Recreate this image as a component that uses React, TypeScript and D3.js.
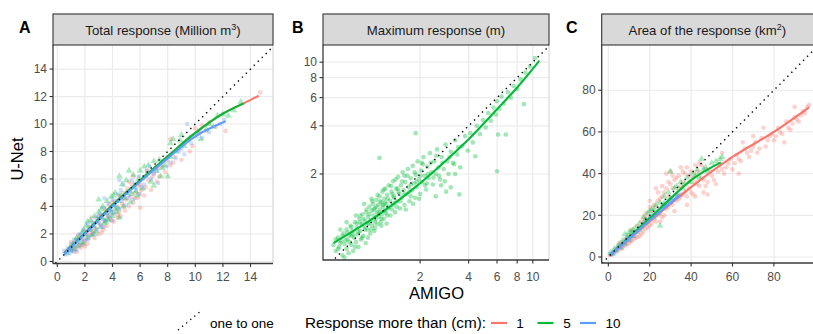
import React from "react";
import * as d3 from "d3";

type P = [number, number];

// ---------- Panel A : Total response (Million m3) ----------
const A_RED: P[] = [
  [0.6,0.7],[0.8,0.9],[1.0,1.0],[1.1,0.8],[1.2,1.3],[1.3,0.9],[1.4,1.1],[1.5,1.6],[1.6,1.2],[1.7,1.0],
  [1.8,1.7],[1.9,1.4],[2.0,2.2],[2.1,1.6],[2.2,1.3],[2.3,2.5],[2.4,1.9],[2.5,2.1],[2.6,2.8],[2.7,1.7],
  [2.8,2.4],[2.9,3.1],[3.0,2.0],[3.1,2.7],[3.2,3.4],[3.3,2.3],[3.4,3.0],[3.5,3.8],[3.6,2.6],[3.7,3.3],
  [3.8,4.1],[3.9,3.0],[4.0,3.6],[4.1,2.9],[4.2,4.4],[4.3,3.4],[4.4,3.9],[4.5,4.8],[4.6,3.3],[4.7,4.2],
  [4.8,5.0],[4.9,3.7],[5.0,4.5],[5.1,5.3],[5.2,4.0],[5.3,4.7],[5.4,5.6],[5.5,4.3],[5.6,5.0],[5.8,4.6],
  [5.9,5.5],[6.0,3.9],[6.1,5.2],[6.2,6.0],[6.4,5.4],[6.6,5.9],[6.8,5.2],[7.0,6.4],[7.2,5.8],[7.4,6.2],
  [7.6,6.9],[7.8,6.5],[8.0,7.3],[8.2,7.0],[8.5,7.6],[8.8,8.2],[9.0,7.4],[9.2,8.6],[9.5,8.9],[9.8,8.4],
  [10.0,9.7],[10.3,9.3],[10.8,9.5],[11.5,9.8],[12.2,9.5],[14.7,12.3],[8.2,8.9],[6.5,6.6],[11.0,10.1],
  [2.5,3.2],[3.2,2.1],[4.5,3.6],[5.5,6.2],[1.5,1.9],[2.0,1.1],[3.8,3.2],[4.8,4.0],[5.9,4.9],
  [1.0,1.4],[1.4,0.7],[1.8,1.2],[2.2,2.0],[2.6,2.2],[3.0,3.3],[3.4,2.5],[3.6,3.7],[4.0,4.3],[4.4,3.2],
  [4.8,4.6],[5.2,5.8],[5.6,4.6],[6.0,5.6],[6.3,4.8],[6.9,6.2],[7.3,6.8],[8.4,7.2],[9.6,8.0],[10.5,9.9]
];
const A_GREEN: P[] = [
  [0.7,0.6],[0.9,1.0],[1.1,1.2],[1.2,0.9],[1.3,1.5],[1.5,1.1],[1.6,1.8],[1.7,1.4],[1.8,2.1],[1.9,1.3],
  [2.0,1.9],[2.1,2.6],[2.2,1.7],[2.3,2.3],[2.4,3.0],[2.5,1.9],[2.6,2.6],[2.7,3.3],[2.8,2.2],[2.9,2.9],
  [3.0,3.6],[3.1,2.5],[3.2,3.2],[3.3,4.0],[3.4,2.8],[3.5,3.5],[3.6,4.4],[3.7,3.0],[3.8,3.8],[3.9,4.7],
  [4.0,3.3],[4.1,4.1],[4.2,5.0],[4.3,3.6],[4.4,4.4],[4.5,3.2],[4.6,4.8],[4.7,5.6],[4.8,4.0],[4.9,4.6],
  [5.0,5.9],[5.2,5.1],[5.3,4.3],[5.5,6.3],[5.6,5.4],[5.8,4.8],[5.9,6.0],[6.0,6.6],[6.2,5.3],[6.4,6.2],
  [6.6,7.0],[6.8,5.8],[7.0,5.5],[7.2,6.6],[7.4,7.4],[7.6,6.8],[7.8,7.0],[8.0,6.2],[8.2,7.6],[8.4,8.9],
  [8.6,8.0],[8.9,8.8],[9.2,8.4],[9.6,9.0],[10.2,9.4],[10.4,8.9],[11.0,10.0],[11.3,9.8],[12.0,10.7],
  [12.4,10.6],[13.3,11.6],[12.8,11.0],[4.5,6.2],[3.0,4.5],[2.2,2.9],[3.6,3.1],[4.2,3.8],[5.4,4.9],
  [1.0,0.8],[1.4,1.7],[1.9,2.3],[2.4,2.4],[2.7,2.0],[3.2,3.8],[3.5,2.9],[3.9,3.5],[4.1,4.8],[4.4,3.9],
  [5.0,5.0],[5.2,6.6],[5.7,5.1],[6.3,6.9],[7.0,7.3],[7.5,6.2],[8.2,8.6],[9.0,9.2],[10.8,9.6],[11.6,10.6]
];
const A_BLUE: P[] = [
  [0.5,0.8],[0.7,0.7],[0.8,1.0],[0.9,0.6],[1.0,1.3],[1.1,0.9],[1.2,1.6],[1.3,1.1],[1.4,0.8],[1.5,1.4],
  [1.6,2.0],[1.7,1.2],[1.8,1.6],[1.9,2.3],[2.0,1.5],[2.1,2.0],[2.2,2.7],[2.3,1.8],[2.4,2.3],[2.5,2.9],
  [2.6,2.0],[2.7,2.5],[2.8,3.2],[2.9,2.3],[3.0,2.8],[3.1,3.5],[3.2,2.6],[3.3,3.1],[3.4,3.9],[3.5,2.9],
  [3.6,3.4],[3.7,4.2],[3.8,3.2],[3.9,3.7],[4.0,4.5],[4.1,3.5],[4.2,4.0],[4.4,4.9],[4.5,3.8],[4.7,4.4],
  [4.8,5.6],[5.0,4.1],[5.2,4.8],[5.4,5.9],[5.5,4.5],[5.7,5.2],[5.9,6.2],[6.0,4.9],[6.3,5.6],[6.5,6.6],
  [6.8,6.0],[7.0,6.4],[7.3,5.7],[7.6,7.3],[7.9,6.9],[8.2,7.2],[8.6,7.5],[9.0,8.2],[9.2,7.8],[9.4,10.0],
  [9.7,8.6],[10.1,9.1],[10.5,9.0],[11.0,9.4],[11.8,10.0],[12.1,10.3],[3.4,4.6],[4.5,5.9],[1.2,0.7],
  [0.6,0.5],[1.0,0.8],[1.4,1.6],[1.8,2.0],[2.2,1.6],[2.6,2.6],[3.0,3.3],[3.3,2.5],[3.7,3.6],[4.0,3.0],
  [4.3,4.4],[4.6,5.2],[5.1,4.6],[5.6,5.7],[6.1,5.4],[6.7,6.9],[7.2,6.6],[8.0,7.6],[8.8,8.0],[10.3,9.5]
];
const A_FIT_RED: P[] = [[0.5,0.6],[2,2.05],[4,4.1],[6,5.9],[8,7.65],[10,9.35],[12,10.75],[13.5,11.5],[14.6,12.06]];
const A_FIT_GREEN: P[] = [[0.5,0.6],[2,2.05],[4,4.1],[6,5.9],[8,7.65],[10,9.35],[12,10.75],[13.5,11.5]];
const A_FIT_BLUE: P[] = [[0.5,0.55],[2,2.0],[4,4.0],[6,5.8],[8,7.5],[10,9.1],[12.2,10.2]];
const A_TICKS = [0, 2, 4, 6, 8, 10, 12, 14];

// ---------- Panel B : Maximum response (m), log-log ----------
const B_GREEN: P[] = [
  [0.58,0.72],[0.60,0.66],[0.62,0.80],[0.63,0.70],[0.65,0.76],[0.66,0.62],[0.67,0.85],[0.68,0.73],[0.70,0.68],[0.70,0.90],
  [0.71,0.78],[0.72,0.64],[0.73,0.83],[0.74,0.95],[0.75,0.72],[0.76,0.88],[0.77,0.66],[0.78,0.80],[0.79,1.00],[0.80,0.75],
  [0.81,0.92],[0.82,0.84],[0.83,0.70],[0.84,1.05],[0.85,0.88],[0.86,0.78],[0.87,0.97],[0.88,1.12],[0.89,0.82],[0.90,0.94],
  [0.91,1.02],[0.92,0.74],[0.93,1.15],[0.94,0.90],[0.95,1.08],[0.96,0.98],[0.97,1.25],[0.98,0.85],[0.99,1.03],[1.00,1.18],
  [1.01,0.95],[1.02,1.30],[1.03,1.10],[1.04,0.88],[1.05,1.22],[1.06,1.04],[1.07,1.38],[1.08,1.15],[1.09,0.97],[1.10,1.28],
  [1.11,1.08],[1.12,1.45],[1.13,1.20],[1.14,1.00],[1.15,1.33],[1.16,1.12],[1.17,1.55],[1.18,1.25],[1.19,1.05],[1.20,1.40],
  [1.21,1.18],[1.22,1.62],[1.23,1.30],[1.24,0.98],[1.25,1.48],[1.27,1.22],[1.28,1.70],[1.30,1.36],[1.31,1.10],[1.33,1.55],
  [1.35,1.28],[1.36,1.80],[1.38,1.42],[1.40,1.15],[1.42,1.62],[1.44,1.35],[1.46,1.92],[1.48,1.50],[1.50,1.22],[1.52,1.70],
  [1.54,1.42],[1.56,2.05],[1.58,1.58],[1.60,1.28],[1.62,1.78],[1.65,1.50],[1.68,2.15],[1.70,1.66],[1.72,1.35],[1.75,1.88],
  [1.78,1.58],[1.80,2.25],[1.83,1.75],[1.86,1.42],[1.88,1.98],[1.90,1.65],[1.93,2.40],[1.96,1.85],[2.00,1.50],[2.03,2.10],
  [2.06,1.78],[2.10,2.55],[2.14,1.95],[2.18,1.60],[2.22,2.22],[2.26,1.88],[2.30,2.70],[2.35,2.05],[2.40,1.72],[2.45,2.40],
  [2.50,2.00],[2.55,2.85],[2.60,2.20],[2.66,1.85],[2.72,2.55],[2.80,2.15],[2.88,3.05],[2.95,2.40],[3.00,2.00],[3.10,2.75],
  [3.20,2.35],[3.30,3.25],[3.40,2.65],[3.55,2.20],[3.65,3.00],[3.80,3.45],[3.95,2.80],[4.10,3.60],[4.25,3.15],[4.40,2.58],
  [4.50,4.00],[4.70,3.55],[4.90,4.35],[5.10,3.90],[5.30,4.80],[5.50,4.30],[5.70,5.20],[5.90,4.70],[6.00,5.70],[6.10,3.53],
  [6.20,5.10],[6.40,6.10],[6.60,5.50],[6.80,3.53],[7.00,6.50],[7.30,6.00],[7.60,7.10],[8.00,6.80],[8.40,7.80],[8.80,5.47],
  [9.00,8.60],[9.60,9.40],[10.30,10.60],[6.00,2.08],[1.88,3.60],[1.12,2.52],[0.90,1.30],[1.00,1.40],[0.80,1.10],[0.70,1.00],
  [3.30,2.00],[2.70,1.70],[3.50,1.49],[2.90,1.55],[2.50,1.45],[3.10,1.65],[0.95,0.80],[1.05,0.92],[1.15,0.95],[1.25,1.10],
  [0.85,1.00],[0.75,0.82],[1.35,1.50],[1.45,1.62],[1.60,1.95],[1.75,1.45],[2.05,2.35],[2.20,1.75],[0.68,0.60],[0.64,0.90],
  [0.60,0.78],[0.62,0.68],[0.64,0.74],[0.66,0.82],[0.69,0.77],[0.71,0.86],[0.73,0.75],[0.75,0.93],[0.77,0.84],[0.79,0.70],
  [0.81,0.98],[0.83,0.87],[0.85,1.10],[0.87,0.80],[0.89,1.05],[0.91,0.90],[0.93,1.20],[0.95,0.98],[0.97,1.12],[0.99,0.90],
  [1.01,1.35],[1.03,1.20],[1.05,1.00],[1.07,1.25],[1.09,1.48],[1.11,1.15],[1.13,1.35],[1.15,1.05],[1.17,1.28],[1.19,1.60],
  [1.21,1.32],[1.23,1.14],[1.26,1.40],[1.29,1.25],[1.32,1.68],[1.34,1.20],[1.37,1.45],[1.39,1.32],[1.41,1.85],[1.43,1.25],
  [1.47,1.55],[1.51,1.35],[1.55,1.80],[1.59,1.48],[1.63,1.20],[1.67,1.95],[1.71,1.55],[1.76,1.72],[1.81,1.30],[1.85,2.05],
  [1.91,1.78],[1.97,1.40],[2.02,1.95],[2.08,2.30],[2.15,1.70],[2.24,2.00],[2.33,2.35],[2.42,1.90],[2.52,2.60],[2.62,1.95],
  [2.75,2.35],[2.85,1.80],[3.05,2.55],[3.25,2.30],[3.45,2.95]
];
const B_FIT: P[] = [[0.58,0.74],[0.8,0.9],[1.13,1.13],[1.5,1.39],[2,1.75],[3,2.51],[4,3.3],[6,5.08],[8,6.95],[10.97,10.2]];
const B_TICKS = [2, 4, 6, 8, 10];

// ---------- Panel C : Area of the response (km2) ----------
const C_RED: P[] = [
  [1,1],[2,1.5],[3,3.5],[4,2.5],[5,4.8],[6,3.8],[7,6.5],[8,5.5],[9,8.8],[10,6.8],[11,10],[12,8.3],[13,12],[14,9.5],
  [15,14],[16,11],[17,16.5],[18,13.5],[19,19],[20,15],[21,22],[22,18],[23,24],[24,20],[25,28],[26,19],[27,31],[28,23],
  [29,36],[30,26],[31,33],[32,22],[33,38],[34,28],[35,34],[36,30],[37,40],[38,25],[39,36],[40,31],[41,38],[42,29],
  [43,41],[44,34],[45,38],[46,31],[47,42],[48,36],[50,39],[52,35],[54,44],[56,40],[58,45],[60,42],[62,49],[64,46],
  [66,52],[68,48],[70,53],[72,50],[74,57],[76,53],[78,58],[80,56],[82,62],[84,59],[86,65],[88,61],[90,67],[92,65],
  [94,70],[96,72],[75,62],[85,55],[65,55],[55,50],[28,40],[23,33],[30,41],[35,43],[20,27],[25,17],[38,29],[45,44],
  [70,58],[90,72],[63,40],[48,30],[15,10],[18,18],[12,12],[27,25],[33,30],[42,36],[10,10],[8,8],
  [5,6],[6,7],[7,4.5],[9,6],[11,7.5],[11,13],[13,9],[14,15],[16,17],[17,12],[18,21],[19,14],[20,24],[21,16],
  [22,25],[23,17],[24,27],[25,21],[26,29],[27,20],[28,33],[29,24],[30,35],[31,25],[32,37],[33,27],[34,39],[35,29],
  [36,41],[37,31],[38,43],[39,33],[40,41],[41,30],[42,44],[43,35],[44,45],[46,37],[47,34],[49,42],[51,37],[53,41],
  [55,42],[57,43],[59,47],[61,45],[63,47],[67,50],[69,51],[71,55],[73,52],[77,56],[79,59],[81,58],[83,60],[87,62],
  [89,64],[91,66],[93,68],[95,69],[97,73],[26,34],[31,39],[36,36],[24,31],[29,29],[34,33],[39,39],[44,40],[21,19],[17,19]
];
const C_GREEN: P[] = [
  [1,2],[2,1.5],[3,4],[4,3.2],[5,6],[6,4.5],[7,8],[8,6.5],[9,10],[10,8],[11,12],[12,10],[13,14],[14,12],[15,16],
  [16,14],[17,19],[18,16],[19,21],[20,18.5],[21,23],[22,19],[23,25],[24,21],[25,26],[26,24],[27,29],[28,25],[29,31],
  [30,28],[32,33],[33,30],[35,36],[36,33],[38,38],[40,36],[42,39],[44,38],[46,42],[48,41],[50,45],[54,47],[30,41],
  [25,15],[45,47],[20,22],[10,12],[8,11],[12,13],[15,13],[18,18],[22,23],[27,26],[33,34],[37,35],[41,40],[43,42],
  [47,43],[52,46],[55,48]
];
const C_BLUE: P[] = [
  [1,1.5],[1.5,1],[2,2.5],[3,2],[3.5,3.5],[4,3],[5,5],[5.5,4.2],[6,6],[7,5.5],[7.5,7],[8,6.5],[9,8.5],[10,8],
  [11,10],[12,10],[13,11],[14,12.5],[15,13],[16,14.5],[17,15],[18,16.5],[19,17],[20,18.5],[21,19],[22,20],[23,21],
  [24,22],[25,22.5],[26,24],[27,24],[28,25.5],[29,26],[30,27],[31,27.5],[32,28.5],[33,29],[34,30],[35,30],
  [2.5,1.8],[4.5,4.5],[6.5,5],[8.5,8],[9.5,9.5],[11,9],[13,12],[15,14],[17,16],[19,18],[21,20],[23,20],[25,23],
  [27,25],[29,27],[31,28]
];
const C_FIT_RED: P[] = [[0.5,0.5],[10,8.5],[20,17],[40,33.5],[60,48],[80,60],[97,71.8]];
const C_FIT_GREEN: P[] = [[1,1],[10,9.5],[20,18.6],[30,28],[40,36.9],[54.4,45.4]];
const C_FIT_BLUE: P[] = [[1,1],[10,8.8],[20,17.5],[34.6,29.7]];
const C_TICKS = [0, 20, 40, 60, 80];

const LEGEND_LEVELS = ["1", "5", "10"];
const COLORS = ["#F8766D", "#00BA38", "#619CFF"];

const FONT = "'Liberation Sans', Arial, Helvetica, sans-serif";

type Series = { pts: P[]; color: string; shape: "circle" | "triangle" | "square" };
type Fit = { pts: P[]; color: string };

function symPath(shape: string) {
  if (shape === "triangle") return d3.symbol().type(d3.symbolTriangle).size(20)()!;
  if (shape === "square") return d3.symbol().type(d3.symbolSquare).size(15)()!;
  return d3.symbol().type(d3.symbolCircle).size(17)()!;
}

function Panel(props: {
  id: string;
  left: number; right: number; top: number; bottom: number;
  x: any; y: any;
  xticks: number[]; yticks: number[];
  series: Series[]; fits: Fit[];
  title: React.ReactNode; label: string; labelX: number;
  oneMin: number; oneMax: number;
  rightBorder: boolean; alpha: number;
}) {
  const { id, left, right, top, bottom, x, y } = props;
  const line = d3.line<P>().x(d => x(d[0])).y(d => y(d[1])).curve(d3.curveMonotoneX);
  const oneLine = d3.line<number>().x(d => x(d)).y(d => y(d));
  const grid = "#EBEBEB";
  return (
    <g>
      <defs>
        <clipPath id={"clip" + id}>
          <rect x={left} y={top} width={right - left} height={bottom - top} />
        </clipPath>
      </defs>
      <rect x={left} y={top} width={right - left} height={bottom - top} fill="white" />
      {props.xticks.map(t => (
        <line key={"gx" + t} x1={x(t)} x2={x(t)} y1={top} y2={bottom} stroke={grid} strokeWidth={1.2} />
      ))}
      {props.yticks.map(t => (
        <line key={"gy" + t} x1={left} x2={right} y1={y(t)} y2={y(t)} stroke={grid} strokeWidth={1.2} />
      ))}
      <g clipPath={`url(#clip${id})`}>
        {props.series.map((s, i) => {
          const path = symPath(s.shape);
          return (
            <g key={"s" + i} fill={s.color} fillOpacity={props.alpha}>
              {s.pts.map((p, j) => (
                <path key={j} d={path} transform={`translate(${x(p[0])},${y(p[1])})`} />
              ))}
            </g>
          );
        })}
        {props.fits.map((f, i) => (
          <path key={"f" + i} d={line(f.pts)!} fill="none" stroke={f.color} strokeWidth={2.1} />
        ))}
        <path
          d={oneLine([props.oneMin, props.oneMax])!}
          fill="none" stroke="#000" strokeWidth={1.4} strokeDasharray="1.4,4.2"
        />
      </g>
      {props.rightBorder && (
        <line x1={right} x2={right} y1={top} y2={bottom} stroke="#CFCFCF" strokeWidth={1} />
      )}
      <line x1={left} x2={left} y1={top} y2={bottom + 0.5} stroke="#3A3A3A" strokeWidth={1.3} />
      <line x1={left} x2={right} y1={bottom} y2={bottom} stroke="#3A3A3A" strokeWidth={1.3} />
      {props.xticks.map(t => (
        <g key={"tx" + t}>
          <line x1={x(t)} x2={x(t)} y1={bottom} y2={bottom + 3.5} stroke="#333" strokeWidth={1.1} />
          <text x={x(t)} y={281} textAnchor="middle" fontSize={12} fill="#4D4D4D" fontFamily={FONT}>{t}</text>
        </g>
      ))}
      {props.yticks.map(t => (
        <g key={"ty" + t}>
          <line x1={left - 3.5} x2={left} y1={y(t)} y2={y(t)} stroke="#333" strokeWidth={1.1} />
          <text x={left - 6} y={y(t) + 4.2} textAnchor="end" fontSize={12} fill="#4D4D4D" fontFamily={FONT}>{t}</text>
        </g>
      ))}
      <rect x={left} y={14} width={right - left} height={top - 14} fill="#D9D9D9" stroke="#333" strokeWidth={1.1} />
      <text x={(left + Math.min(right, 813)) / 2} y={34.5} textAnchor="middle" fontSize={13.2} fill="#1A1A1A" fontFamily={FONT}>
        {props.title}
      </text>
      <text x={props.labelX} y={33} fontSize={16} fontWeight="bold" fill="#000" fontFamily={FONT}>{props.label}</text>
    </g>
  );
}

export default function App() {
  const axA = d3.scaleLinear().domain([-0.31, 15.63]).range([53, 273]);
  const ayA = d3.scaleLinear().domain([-0.15, 15.75]).range([263.5, 45]);
  const axB = d3.scaleLog().domain([0.5, 12.6]).range([323, 549]);
  const ayB = d3.scaleLog().domain([0.58, 12.8]).range([260, 45]);
  const axC = d3.scaleLinear().domain([-3.2, 101.3]).range([601.7, 818]);
  const ayC = d3.scaleLinear().domain([-2.88, 101.7]).range([263, 45]);

  const sup = (t: string) => (
    <tspan baselineShift="super" fontSize={9}>{t}</tspan>
  );

  return (
    <div style={{ position: "absolute", left: 0, top: 0 }}>
      <svg width={813} height={334} style={{ display: "block", background: "white" }}>
        <rect x={0} y={0} width={813} height={334} fill="white" />
        <Panel
          id="A" left={53} right={273} top={45} bottom={263.5} x={axA} y={ayA}
          xticks={A_TICKS} yticks={A_TICKS}
          series={[
            { pts: A_RED, color: COLORS[0], shape: "circle" },
            { pts: A_GREEN, color: COLORS[1], shape: "triangle" },
            { pts: A_BLUE, color: COLORS[2], shape: "square" },
          ]}
          fits={[
            { pts: A_FIT_RED, color: COLORS[0] },
            { pts: A_FIT_GREEN, color: COLORS[1] },
            { pts: A_FIT_BLUE, color: COLORS[2] },
          ]}
          title={<>Total response (Million m{sup("3")})</>}
          label="A" labelX={19}
          oneMin={-1} oneMax={17} rightBorder={true} alpha={0.32}
        />
        <Panel
          id="B" left={323} right={549} top={45} bottom={260} x={axB} y={ayB}
          xticks={B_TICKS} yticks={B_TICKS}
          series={[{ pts: B_GREEN, color: COLORS[1], shape: "circle" }]}
          fits={[{ pts: B_FIT, color: COLORS[1] }]}
          title={<>Maximum response (m)</>}
          label="B" labelX={292}
          oneMin={0.5} oneMax={13} rightBorder={true} alpha={0.36}
        />
        <Panel
          id="C" left={601.7} right={818} top={45} bottom={263} x={axC} y={ayC}
          xticks={C_TICKS} yticks={C_TICKS}
          series={[
            { pts: C_RED, color: COLORS[0], shape: "circle" },
            { pts: C_GREEN, color: COLORS[1], shape: "triangle" },
            { pts: C_BLUE, color: COLORS[2], shape: "square" },
          ]}
          fits={[
            { pts: C_FIT_RED, color: COLORS[0] },
            { pts: C_FIT_GREEN, color: COLORS[1] },
            { pts: C_FIT_BLUE, color: COLORS[2] },
          ]}
          title={<>Area of the response (km{sup("2")})</>}
          label="C" labelX={566}
          oneMin={-5} oneMax={110} rightBorder={false} alpha={0.32}
        />
        <text x={436.5} y={299} textAnchor="middle" fontSize={16.5} fill="#000" fontFamily={FONT}>AMIGO</text>
        <text transform="translate(23,159) rotate(-90)" textAnchor="middle" fontSize={16.5} fill="#000" fontFamily={FONT}>U-Net</text>
        <line x1={178} y1={330} x2={201} y2={311} stroke="#000" strokeWidth={1.3} strokeDasharray="1.3,4" />
        <text x={210} y={327.8} fontSize={13.5} fill="#000" fontFamily={FONT}>one to one</text>
        <text x={305} y={328.4} fontSize={15.3} fill="#000" fontFamily={FONT}>Response more than (cm):</text>
        {LEGEND_LEVELS.map((lv, i) => {
          const x0 = [491, 537.5, 580][i];
          const tx = [520, 567, 613][i];
          return (
            <g key={lv}>
              <line x1={x0} x2={x0 + 16} y1={323} y2={323} stroke={COLORS[i]} strokeWidth={2.2} />
              <text x={tx} y={327.8} textAnchor="middle" fontSize={13.5} fill="#000" fontFamily={FONT}>{lv}</text>
            </g>
          );
        })}
      </svg>
    </div>
  );
}
